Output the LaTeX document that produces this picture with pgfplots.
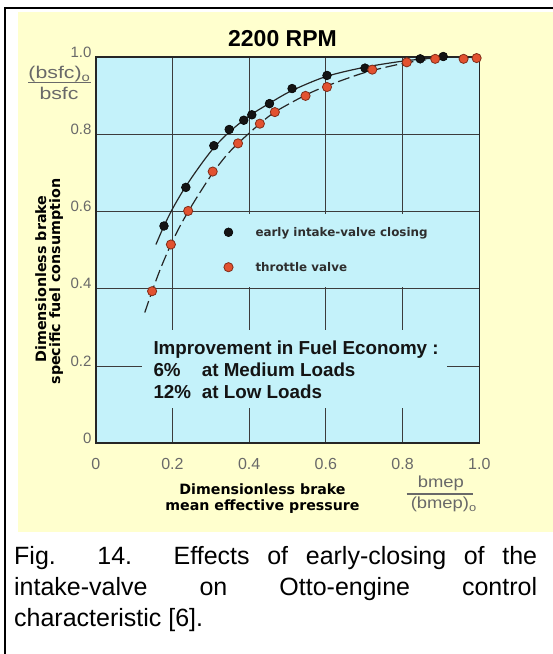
\documentclass[border=0pt]{standalone}
\usepackage{fontspec}
\setmainfont{Liberation Sans}
\newfontfamily\dejavu{DejaVu Sans}
\usepackage{graphicx}
\usepackage{pgfplots}
\pgfplotsset{compat=1.18}

\definecolor{panelyellow}{RGB}{255,255,206}
\definecolor{plotcyan}{RGB}{196,242,250}
\definecolor{dotred}{RGB}{226,82,48}
\definecolor{dotredline}{RGB}{130,45,25}
\definecolor{ticklab}{RGB}{105,105,105}
\definecolor{gridc}{RGB}{60,60,60}

\begin{document}
\begin{tikzpicture}
\useasboundingbox (0,0) rectangle (553bp,654bp);
\fill[white] (0,0) rectangle (553bp,654bp);
\fill[panelyellow] (18.3bp,121.7bp) rectangle (553bp,641.7bp);
\draw[black, line width=2.5bp] (5bp,0bp) -- (5bp,646.2bp) -- (553bp,646.2bp);

\begin{axis}[
  at={(95.7bp,210.7bp)}, anchor=south west,
  scale only axis, width=383.6bp, height=386bp,
  xmin=0, xmax=1, ymin=0, ymax=1,
  clip=false,
  axis background/.style={fill=plotcyan},
  xtick={0,0.2,0.4,0.6,0.8,1}, ytick={0,0.2,0.4,0.6,0.8,1},
  xticklabels={0,0.2,0.4,0.6,0.8,1.0}, yticklabels={0,0.2,0.4,0.6,0.8,1.0},
  /pgf/number format/assume math mode=true,
  grid=major, major grid style={gridc, line width=0.9bp},
  major tick length=0pt,
  axis line style={black!85, line width=1.6bp},
  xticklabel style={font=\fontsize{16bp}{16bp}\selectfont, text=ticklab, anchor=base, inner sep=0pt, yshift=-26.7bp},
  yticklabel style={font=\fontsize{15bp}{15bp}\selectfont, text=ticklab, anchor=base east, inner sep=0pt, xshift=-4bp},
  legend style={at={(axis cs:0.3337,0.5589)}, anchor=north west, draw=none, fill=none,
    inner sep=0pt, row sep=25.8bp, column sep=22.4bp,
    font=\dejavu\bfseries\fontsize{11.9bp}{11.9bp}\selectfont, text=black!82,
    cells={anchor=west}, nodes={inner sep=0pt, text depth=0pt}},
  legend image code/.code={\draw[#1] plot coordinates {(0cm,0cm)};},
]
% boxes that hide the grid behind the texts
\fill[plotcyan] (axis cs:0.285,0.405) rectangle (axis cs:0.97,0.595);
\fill[plotcyan] (axis cs:0.121,0.091) rectangle (axis cs:0.916,0.293);

% fitted curves
\addplot[forget plot, smooth, black!85, line width=1.2bp] coordinates {
 (0.157,0.515) (0.178,0.563) (0.20,0.607) (0.225,0.650) (0.25,0.688) (0.28,0.730)
 (0.31,0.768) (0.35,0.808) (0.40,0.848) (0.45,0.879) (0.51,0.913) (0.60,0.950)
 (0.70,0.974) (0.80,0.990) (0.87,0.997) (0.92,1.0) (0.99,1.0)};
\addplot[forget plot, smooth, black!85, line width=1.2bp, dash pattern=on 12bp off 4.5bp] coordinates {
 (0.128,0.339) (0.147,0.394) (0.17,0.455) (0.196,0.515) (0.22,0.563) (0.241,0.600)
 (0.27,0.647) (0.305,0.700) (0.34,0.745) (0.371,0.777) (0.428,0.828) (0.47,0.860)
 (0.547,0.902) (0.603,0.926) (0.70,0.960) (0.80,0.984) (0.86,0.993)};

% measured points
\addplot[only marks, mark=*, mark size=4.4bp, mark options={fill=black!92, draw=black, line width=0.5bp}] table {
x y
0.178 0.563
0.235 0.663
0.308 0.771
0.348 0.813
0.386 0.837
0.407 0.851
0.453 0.880
0.512 0.919
0.603 0.953
0.702 0.972
0.846 0.996
0.906 1.002
};
\addlegendentry{early intake-valve closing}
\addplot[only marks, mark=*, mark size=4.6bp, mark options={fill=dotred, draw=dotredline, line width=0.8bp}] table {
x y
0.147 0.394
0.196 0.515
0.241 0.602
0.305 0.704
0.371 0.777
0.428 0.828
0.467 0.858
0.547 0.900
0.603 0.923
0.721 0.968
0.811 0.987
0.885 0.996
0.959 0.996
0.993 0.998
};
\addlegendentry{throttle valve}
\end{axis}

% title
\node[anchor=base, inner sep=0pt, font=\bfseries\fontsize{23bp}{23bp}\selectfont] at (282.5bp,607.3bp) {2200 RPM};

% y ratio
\node[anchor=base, inner sep=0pt, text=ticklab, font=\fontsize{17bp}{17bp}\selectfont] at (59.5bp,575.5bp) {\scalebox{1.25}[1]{(bsfc)\textsubscript{o}}};
\draw[ticklab, line width=1.2bp] (28bp,571.3bp) -- (91bp,571.3bp);
\node[anchor=base, inner sep=0pt, text=ticklab, font=\fontsize{17bp}{17bp}\selectfont] at (59bp,554.7bp) {\scalebox{1.25}[1]{bsfc}};

% x ratio
\node[anchor=base, inner sep=0pt, text=ticklab, font=\fontsize{16bp}{16bp}\selectfont] at (440.8bp,166.7bp) {\scalebox{1.15}[1]{bmep}};
\draw[ticklab, line width=1.2bp] (406.7bp,160bp) -- (473.3bp,160bp);
\node[anchor=base, inner sep=0pt, text=ticklab, font=\fontsize{16bp}{16bp}\selectfont] at (443.8bp,145bp) {\scalebox{1.15}[1]{(bmep)\textsubscript{o}}};

% axis labels
\node[rotate=90, anchor=base, inner sep=0pt, font=\dejavu\bfseries\fontsize{14.3bp}{14.3bp}\selectfont] at (46bp,375bp) {Dimensionless brake};
\node[rotate=90, anchor=base, inner sep=0pt, font=\dejavu\bfseries\fontsize{14.3bp}{14.3bp}\selectfont] at (60bp,372.5bp) {specific fuel consumption};
\node[anchor=base, inner sep=0pt, font=\dejavu\bfseries\fontsize{14.2bp}{14.2bp}\selectfont] at (262.5bp,159bp) {Dimensionless brake};
\node[anchor=base, inner sep=0pt, font=\dejavu\bfseries\fontsize{14.2bp}{14.2bp}\selectfont] at (262.5bp,143.3bp) {mean effective pressure};

% improvement note
\begin{scope}[every node/.style={anchor=base west, inner sep=0pt, font=\bfseries\fontsize{18.8bp}{18.8bp}\selectfont, text=black!92}]
\node at (153.3bp,299bp) {Improvement in Fuel Economy :};
\node at (153.3bp,277.3bp) {6\%};
\node at (201.7bp,277.3bp) {at Medium Loads};
\node at (153.3bp,255.7bp) {12\%};
\node at (201.7bp,255.7bp) {at Low Loads};
\end{scope}

% caption
\begin{scope}[every node/.style={anchor=base west, inner sep=0pt, font=\fontsize{25bp}{25bp}\selectfont}]
\node at (14bp,89.3bp) {\makebox[523bp][s]{Fig. 14. Effects of early-closing of the}};
\node at (14bp,58.3bp) {\makebox[523bp][s]{intake-valve on Otto-engine control}};
\node at (14bp,27.3bp) {characteristic [6].};
\end{scope}
\end{tikzpicture}
\end{document}
